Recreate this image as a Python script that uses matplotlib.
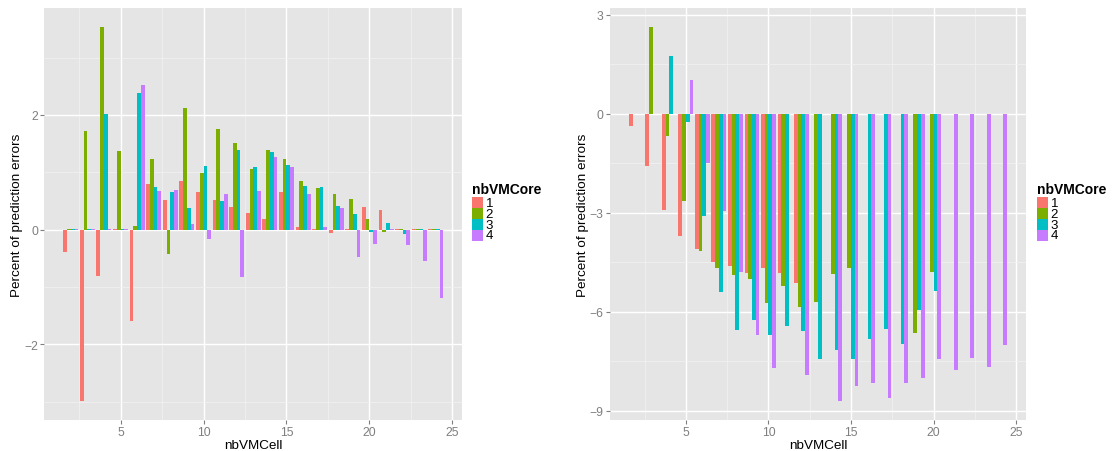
import numpy as np
import matplotlib
matplotlib.use("Agg")
import matplotlib.pyplot as plt
from matplotlib.patches import Rectangle

plt.rcParams['font.family'] = ['Liberation Sans', 'DejaVu Sans']

nan = np.nan
nb_vm_cell = list(range(2, 25))
cores = ['1', '2', '3', '4']
colors = ['#F8766D', '#7CAE00', '#00BFC4', '#C77CFF']

# left panel, one list per nbVMCore (nbVMCell 2..24)
left_core1 = [-0.39, -2.99, -0.81, 0.01, -1.59, 0.80, 0.52, 0.84, 0.66, 0.51, 0.39, 0.29,
              0.19, 0.66, 0.05, 0.01, -0.06, 0.01, 0.39, 0.35, 0.01, 0.01, 0.01]
left_core2 = [0.01, 1.72, 3.54, 1.37, 0.06, 1.23, -0.42, 2.12, 0.98, 1.75, 1.51, 1.05,
              1.39, 1.24, 0.85, 0.73, 0.63, 0.54, 0.18, -0.04, 0.01, 0.01, 0.01]
left_core3 = [0.01, 0.01, 2.02, 0.01, 2.38, 0.74, 0.65, 0.37, 1.11, 0.50, 1.39, 1.09,
              1.35, 1.13, 0.76, 0.75, 0.41, 0.27, -0.04, 0.12, -0.08, 0.01, 0.01]
left_core4 = [0.01, 0.01, 0.01, 0.01, 2.52, 0.67, 0.69, 0.10, -0.17, 0.62, -0.83, 0.68,
              1.27, 1.10, 0.63, 0.05, 0.38, -0.48, -0.25, 0.01, -0.27, -0.54, -1.20]

# right panel
right_core1 = [-0.37, -1.57, -2.90, -3.71, -4.09, -4.48, -4.61, -4.83, -4.68, -4.83, -5.13, nan,
               nan, nan, nan, nan, nan, nan, nan, nan, nan, nan, nan]
right_core2 = [nan, 2.64, -0.66, -2.64, -4.15, -4.66, -4.89, -5.00, -5.72, -5.23, -5.84, -5.71,
               -4.84, -4.66, nan, nan, nan, -6.63, -4.78, nan, nan, nan, nan]
right_core3 = [nan, nan, 1.74, -0.26, -3.08, -5.41, -6.54, -6.26, -6.70, -6.43, -6.57, -7.44,
               -7.17, -7.42, -6.81, -6.52, -6.98, -5.95, -5.38, nan, nan, nan, nan]
right_core4 = [nan, nan, nan, 1.02, -1.48, -2.93, -4.78, -6.69, -7.71, nan, -7.91, nan,
               -8.70, -8.24, -8.16, -8.60, -8.16, -7.99, -7.44, -7.76, -7.40, -7.67, -6.99]

left_series = [left_core1, left_core2, left_core3, left_core4]
right_series = [right_core1, right_core2, right_core3, right_core4]

W, H = 1114, 452
grey_bg = '#E5E5E5'
tick_grey = '#7F7F7F'


def fx(px):
    return px / W


def fy(py):
    return 1 - py / H


def draw_legend(fig, x_px):
    # ggplot-like legend: bold title + stacked square keys
    fig.text(fx(x_px), fy(190), 'nbVMCore', fontsize=10, fontweight='bold',
             ha='left', va='center')
    key = 11
    for i, c in enumerate(colors):
        top = 197.5 + i * key
        fig.patches.append(Rectangle((fx(x_px + 0.5), fy(top + key)), key / W, key / H,
                                     transform=fig.transFigure, facecolor=c,
                                     edgecolor='none'))
    # labels as one block so the rows can be as tight as the keys
    fig.text(fx(x_px + key + 3), fy(198.5), '\n'.join(cores), fontsize=9.5,
             ha='left', va='top', linespacing=0.85)


def draw_panel(ax, series, yticks, yminor):
    x = np.array(nb_vm_cell, dtype=float)
    w = 0.9 / len(series)
    for i, vals in enumerate(series):
        off = (i - (len(series) - 1) / 2) * w
        ax.bar(x + off, vals, width=w, color=colors[i], linewidth=0)

    # ggplot style limits: 5% expansion
    allv = np.concatenate([np.array(s, dtype=float) for s in series])
    lo = min(np.nanmin(allv), 0)
    hi = max(np.nanmax(allv), 0)
    ax.set_ylim(lo - 0.05 * (hi - lo), hi + 0.05 * (hi - lo))
    x0, x1 = x.min() - 0.45, x.max() + 0.45
    ax.set_xlim(x0 - 0.05 * (x1 - x0), x1 + 0.05 * (x1 - x0))

    ax.set_facecolor(grey_bg)
    for s in ax.spines.values():
        s.set_visible(False)
    ax.set_xticks([5, 10, 15, 20, 25])
    ax.set_xticks([2.5, 7.5, 12.5, 17.5, 22.5], minor=True)
    ax.set_yticks(yticks)
    ax.set_yticks(yminor, minor=True)
    ax.grid(which='major', color='white', linewidth=1.0)
    ax.grid(which='minor', color='#F2F2F2', linewidth=0.5)
    ax.set_axisbelow(True)
    ax.tick_params(which='major', colors=tick_grey, labelsize=8.7, length=3,
                   width=0.8, pad=1.5)
    ax.tick_params(which='minor', length=0)
    ax.set_xlabel('nbVMCell', fontsize=9.7, labelpad=0.5)
    ax.set_ylabel('Percent of prediction errors', fontsize=9.7, labelpad=0.5)


fig = plt.figure(figsize=(W / 100, H / 100), dpi=100)
ax1 = fig.add_axes([fx(44.3), fy(420.7), fx(462.3 - 44.3), (420.7 - 9) / H])
ax2 = fig.add_axes([fx(610), fy(420.7), fx(1026 - 610), (420.7 - 9) / H])

draw_panel(ax1, left_series, [-2, 0, 2], [-3, -1, 1, 3])
draw_panel(ax2, right_series, [-9, -6, -3, 0, 3], [-7.5, -4.5, -1.5, 1.5])
draw_legend(fig, 471.7)
draw_legend(fig, 1036.7)

fig.savefig('out.png', dpi=100)
